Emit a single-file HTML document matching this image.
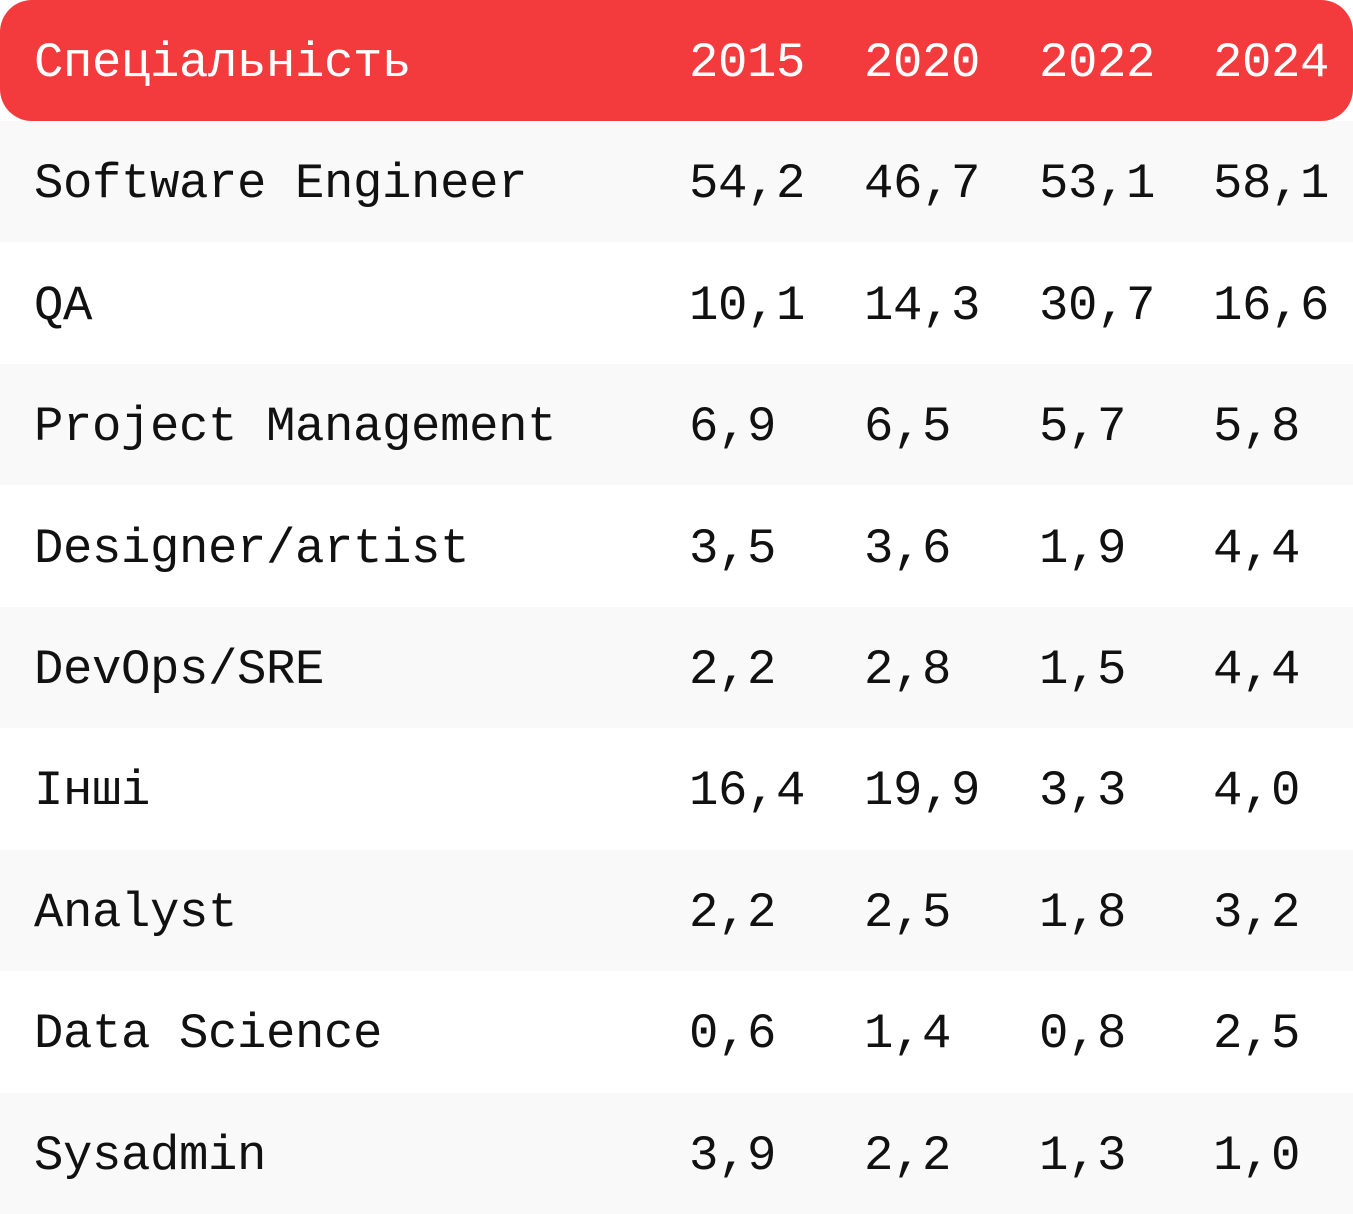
<!DOCTYPE html>
<html><head><meta charset="utf-8">
<style>
html,body{margin:0;padding:0;background:#fff;}
body{width:1353px;height:1214px;position:relative;overflow:hidden;font-family:"Liberation Mono","DejaVu Sans Mono",monospace;}
.hdr{position:absolute;left:0;top:0;width:1353px;height:121px;background:#f33a3c;border-radius:32px;color:#fff;}
.row{position:absolute;left:0;width:1353px;height:122px;}
.cell{position:absolute;top:0;height:100%;box-sizing:border-box;padding-top:5px;display:flex;align-items:center;font-size:49px;letter-spacing:-0.4px;white-space:nowrap;}
.row .cell{color:#111;}
</style></head>
<body>
<div class="hdr">
  <div class="cell" style="left:34px">Спеціальність</div>
  <div class="cell" style="left:689px">2015</div>
  <div class="cell" style="left:864px">2020</div>
  <div class="cell" style="left:1039px">2022</div>
  <div class="cell" style="left:1213px">2024</div>
</div>
<div id="rows"></div>
<script>
const categories = ["Software Engineer","QA","Project Management","Designer/artist","DevOps/SRE","Інші","Analyst","Data Science","Sysadmin"];
const v2015 = ["54,2","10,1","6,9","3,5","2,2","16,4","2,2","0,6","3,9"];
const v2020 = ["46,7","14,3","6,5","3,6","2,8","19,9","2,5","1,4","2,2"];
const v2022 = ["53,1","30,7","5,7","1,9","1,5","3,3","1,8","0,8","1,3"];
const v2024 = ["58,1","16,6","5,8","4,4","4,4","4,0","3,2","2,5","1,0"];
const series = [v2015, v2020, v2022, v2024];
const years = ["2015","2020","2022","2024"];
const colX = [689, 864, 1039, 1213];
const container = document.getElementById('rows');
const top0 = 121, rh = (1214 - 121) / categories.length;
categories.forEach((c, i) => {
  const r = document.createElement('div');
  r.className = 'row';
  
  
  r.style.top = (top0 + i * rh) + 'px';
  r.style.height = rh + 'px';
  r.style.background = i % 2 === 0 ? '#f9f9f9' : '#ffffff';
  const l = document.createElement('div');
  l.className = 'cell';
  
  
  l.style.left = '34px';
  l.textContent = c;
  r.appendChild(l);
  series.forEach((s, j) => {
    const d = document.createElement('div');
    d.className = 'cell';
    
    
    d.style.left = colX[j] + 'px';
    d.textContent = s[i];
    r.appendChild(d);
  });
  container.appendChild(r);
});
</script>
</body></html>
